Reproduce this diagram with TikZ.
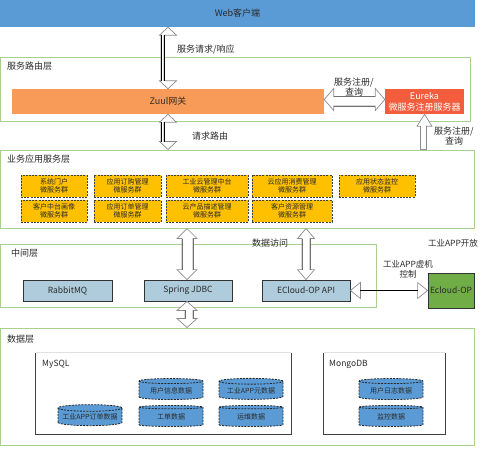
\documentclass[tikz,border=0pt]{standalone}
\usepackage{fontspec}
\setmainfont{Noto Sans CJK SC}
\usetikzlibrary{shapes.geometric,calc}
\definecolor{webblue}{HTML}{5B9BD5}
\definecolor{zuulor}{HTML}{F89A58}
\definecolor{eurred}{HTML}{F35C3C}
\definecolor{layergreen}{HTML}{A9D18E}
\definecolor{ybox}{HTML}{FFC000}
\definecolor{midblue}{HTML}{AECCDC}
\definecolor{eclgreen}{HTML}{70AD47}
\definecolor{arrgray}{HTML}{8C8C8C}
\definecolor{txt}{HTML}{2A2A2A}
\newcommand\rbox[7]{\node[#1,minimum width={(#5-#3)*1pt},minimum height={(#6-#4)*1pt}] (#2) at ({(#3+#5)/2},{(#4+#6)/2}) {#7};}
% vertical hollow double arrow: style for shaft, top, bottom, shaft left, shaft right, head half, head length
\newcommand\vdarrow[7][harrow]{%
 \draw[harrow] let \p1=(#2), \p2=(#3) in
 (\x1,\y1) -- ({\x1+#6},{\y1-#7}) -- ({\x1+(#5)},{\y1-#7}) -- ({\x1+(#5)},{\y2+#7}) -- ({\x1+#6},{\y2+#7}) -- (\x1,\y2)
 -- ({\x1-#6},{\y2+#7}) -- ({\x1-(#4)},{\y2+#7}) -- ({\x1-(#4)},{\y1-#7}) -- ({\x1-#6},{\y1-#7}) -- cycle;
 \draw[#1] let \p1=(#2), \p2=(#3) in
 ({\x1+(#5)},{\y1-#7}) -- ({\x1+(#5)},{\y2+#7}) ({\x1-(#4)},{\y2+#7}) -- ({\x1-(#4)},{\y1-#7});}
% horizontal hollow double arrow: style, left, right, shaft up, shaft down, head half, head length
\newcommand\hdarrow[7][harrow]{%
 \draw[harrow] let \p1=(#2), \p2=(#3) in
 (\x1,\y1) -- ({\x1+#7},{\y1+#6}) -- ({\x1+#7},{\y1+(#4)}) -- ({\x2-#7},{\y1+(#4)}) -- ({\x2-#7},{\y1+#6}) -- (\x2,\y1)
 -- ({\x2-#7},{\y1-#6}) -- ({\x2-#7},{\y1-(#5)}) -- ({\x1+#7},{\y1-(#5)}) -- ({\x1+#7},{\y1-#6}) -- cycle;
 \draw[#1] let \p1=(#2), \p2=(#3) in
 ({\x1+#7},{\y1+(#4)}) -- ({\x2-#7},{\y1+(#4)}) ({\x1+#7},{\y1-(#5)}) -- ({\x2-#7},{\y1-(#5)});}
% horizontal line-shaft double arrow with open heads: left, right, head half, head length
\newcommand\hlarrow[4]{%
 \draw[harrow] let \p1=(#1), \p2=(#2) in
 (\x1,\y1) -- ({\x1+#4},{\y1+#3}) -- ({\x1+#4},{\y1-#3}) -- cycle
 (\x2,\y1) -- ({\x2-#4},{\y1+#3}) -- ({\x2-#4},{\y1-#3}) -- cycle;
 \draw[blackshaft] let \p1=(#1), \p2=(#2) in ({\x1+#4},\y1) -- ({\x2-#4},\y1);}
% vertical hollow single arrow pointing up: bottom, top tip, shaft left, shaft right, head half, head length
\newcommand\vuarrow[6]{%
 \draw[harrow] let \p1=(#1), \p2=(#2) in
 (\x2,\y2) -- ({\x2+#5},{\y2-#6}) -- ({\x2+(#4)},{\y2-#6}) -- ({\x2+(#4)},\y1) -- ({\x2-(#3)},\y1) -- ({\x2-(#3)},{\y2-#6}) -- ({\x2-#5},{\y2-#6}) -- cycle;}
\tikzset{
 harrow/.style={draw=arrgray,fill=white,line width=0.7pt,line join=miter},
 blackshaft/.style={draw=black,line width=0.8pt},
 grayshaft/.style={draw=arrgray!80!black,line width=0.7pt},
 layer/.style={draw=layergreen,line width=1pt,inner sep=0pt},
 bar/.style={inner sep=0pt,text=txt,font=\fontsize{9}{10}\selectfont},
 ysvc/.style={fill=ybox,draw=black!75,dashed,dash pattern=on 2pt off 1.2pt,line width=0.8pt,inner sep=0pt,align=center,text=txt,font=\fontsize{7}{8.6}\selectfont},
 mid/.style={fill=midblue,draw=black!80,line width=0.8pt,inner sep=0pt,text=txt,font=\fontsize{8.5}{10}\selectfont},
 lbl/.style={inner sep=0pt,text=txt,font=\fontsize{9}{10}\selectfont},
 lbls/.style={inner sep=0pt,text=txt,font=\fontsize{8.5}{10}\selectfont},
 dbbox/.style={inner sep=0pt},
 cyl/.style={cylinder,shape border rotate=90,aspect=0.12,fill=webblue,draw=black!85,dashed,dash pattern=on 2pt off 1.2pt,line width=0.8pt,inner sep=0pt,minimum width=64pt,minimum height=21pt,text=txt,font=\fontsize{7}{9}\selectfont},
}
\begin{document}
\begin{tikzpicture}[x=1pt,y=-1pt]
\useasboundingbox (0,0) rectangle (486,448);
% layers
\rbox{layer}{routing}{0.5}{57}{470}{121}{}
\rbox{layer}{biz}{0.5}{150}{474}{228}{}
\rbox{layer}{midl}{0.5}{244}{376}{307}{}
\rbox{layer}{data}{0.5}{328}{474}{445}{}
% top bars
\rbox{bar,fill=webblue}{web}{0}{0}{475}{27}{Web客户端}
\rbox{bar,fill=zuulor}{zuul}{12}{89}{324}{114}{Zuul网关}
\rbox{bar,fill=eurred,text=white,align=center,font=\fontsize{9}{11}\selectfont}{eureka}{385}{89}{464}{114}{Eureka\\微服务注册服务器}
% layer labels
\node[lbl,anchor=west] (lroute) at (7,66) {服务路由层};
\node[lbl,anchor=west] (lbiz) at (7,159) {业务应用服务层};
\node[lbl,anchor=west] (lmid) at (11,253) {中间层};
\node[lbl,anchor=west] (ldata) at (7,339) {数据层};
% business services
\rbox{ysvc}{s11}{21}{175}{87}{197}{系统门户\\微服务群}
\rbox{ysvc}{s12}{94}{175}{161}{197}{应用订购管理\\微服务群}
\rbox{ysvc}{s13}{166}{175}{248}{197}{工业云管理中台\\微服务群}
\rbox{ysvc}{s14}{252}{175}{332}{197}{云应用消费管理\\微服务群}
\rbox{ysvc}{s15}{339}{175}{415}{197}{应用状态监控\\微服务群}
\rbox{ysvc}{s21}{21}{200}{87}{222}{客户中台画像\\微服务群}
\rbox{ysvc}{s22}{94}{200}{161}{222}{应用订单管理\\微服务群}
\rbox{ysvc}{s23}{166}{200}{248}{222}{云产品描述管理\\微服务群}
\rbox{ysvc}{s24}{252}{200}{332}{222}{客户资源管理\\微服务群}
% middle layer
\rbox{mid}{rabbit}{23}{280}{112}{301}{RabbitMQ}
\rbox{mid}{jdbc}{144}{280}{232}{301}{Spring JDBC}
\rbox{mid}{api}{262}{280}{350}{301}{ECloud-OP API}
\rbox{mid,fill=eclgreen}{ecl}{428}{273}{474}{308}{Ecloud-OP}
% data layer boxes
\rbox{dbbox}{mysql}{36}{353}{291}{434}{}
\rbox{dbbox}{mongo}{324}{353}{445}{434}{}
\foreach \b in {mysql,mongo}{
 \draw[black!12,line width=0.7pt] (\b.north west) -- (\b.north east);
 \draw[black!75,line width=0.9pt] (\b.north west) -- (\b.south west) -- (\b.south east) -- (\b.north east);
}
\node[lbls,anchor=west] (lmysql) at (42,364) {MySQL};
\node[lbls,anchor=west] (lmongo) at (329,364) {MongoDB};
% cylinders
\node[cyl] (d1) at (171,390.5) {用户信息数据};
\node[cyl] (d2) at (251,390.5) {工业APP元数据};
\node[cyl] (d3) at (90,417) {工业APP订单数据};
\node[cyl] (d4) at (171,417) {工单数据};
\node[cyl] (d5) at (251,417) {运维数据};
\node[cyl] (d6) at (391,390.5) {用户日志数据};
\node[cyl] (d7) at (391,417) {监控数据};
% arrow x positions
\coordinate (ax1) at (168,0);
\coordinate (ax3) at (424.5,0);
\coordinate (ax4) at (187,0);
\coordinate (ax5) at (306,0);
\coordinate (ay1) at (0,99.5);
% arrows
\vdarrow[blackshaft]{web.south -| ax1}{zuul.north -| ax1}{7pt}{-4pt}{8.5pt}{8pt}
\vdarrow[blackshaft]{zuul.south -| ax1}{biz.north -| ax1}{7pt}{-4pt}{8.5pt}{8pt}
\hdarrow[grayshaft]{zuul.east |- ay1}{eureka.west |- ay1}{3pt}{6.5pt}{11pt}{9.5pt}
\vuarrow{biz.north -| ax3}{eureka.south -| ax3}{4pt}{2pt}{7.5pt}{12pt}
\vdarrow[grayshaft]{biz.south -| ax4}{jdbc.north -| ax4}{5pt}{6pt}{10pt}{10pt}
\vdarrow[grayshaft]{biz.south -| ax5}{api.north -| ax5}{4pt}{4pt}{8.5pt}{10pt}
\vdarrow[grayshaft]{jdbc.south -| ax4}{data.north -| ax4}{2pt}{6pt}{10pt}{9pt}
\hlarrow{api.east}{ecl.west |- api.east}{8pt}{10pt}
% arrow labels
\node[lbl,anchor=west] (l1) at (177,49) {服务请求/响应};
\node[lbl,align=center] (l2) at (354,87) {服务注册/\\查询};
\node[lbl,anchor=west] (l3) at (192,136) {请求路由};
\node[lbl,align=center] (l4) at (454,136) {服务注册/\\查询};
\node[lbl] (l5) at (270,243) {数据访问};
\node[lbls] (l6) at (453,243) {工业APP开放};
\node[lbls,align=center] (l7) at (408,269) {工业APP虚机\\控制};
\end{tikzpicture}
\end{document}
